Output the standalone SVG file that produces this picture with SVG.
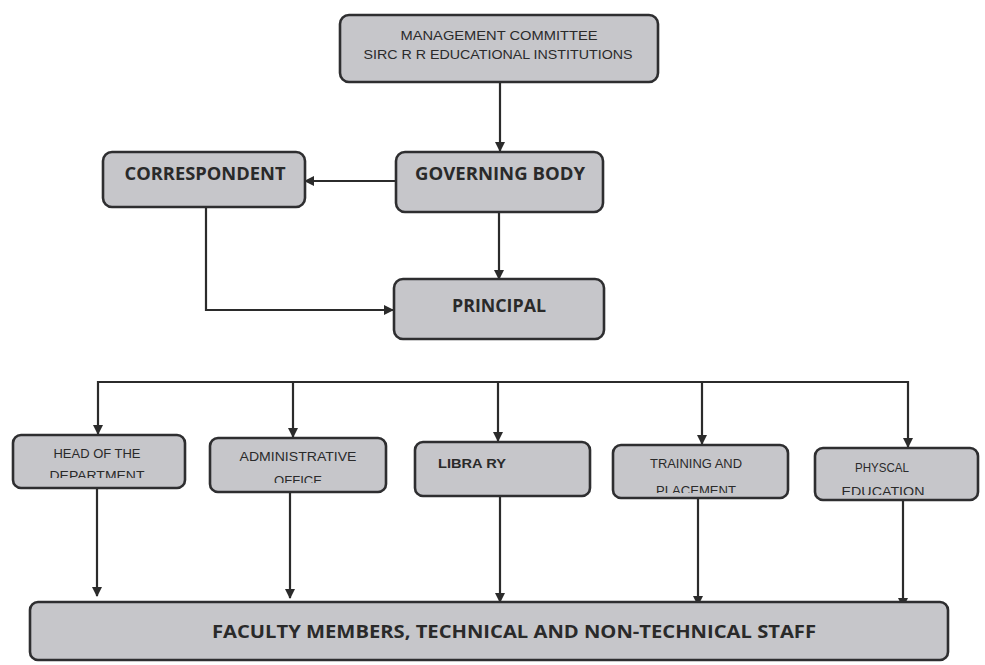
<svg xmlns="http://www.w3.org/2000/svg" width="985" height="665" viewBox="0 0 985 665">
<defs>
<marker id="ah" viewBox="0 0 10 10" refX="9" refY="5" markerWidth="10" markerHeight="10" markerUnits="userSpaceOnUse" orient="auto">
<path d="M0,0 L10,5 L0,10 z" fill="#2b2b2b"/>
</marker>
<clipPath id="c1"><rect x="13" y="435" width="172" height="43"/></clipPath>
<clipPath id="c2"><rect x="210" y="438" width="176" height="45"/></clipPath>
<clipPath id="c4"><rect x="613" y="445" width="175" height="48"/></clipPath>
<clipPath id="c5"><rect x="815" y="448" width="163" height="47"/></clipPath>
</defs>
<style>
.box{fill:#c6c6ca;stroke:#2e2e30;stroke-width:2.6}
.c{fill:none;stroke:#2b2b2b;stroke-width:2.2}
.a{marker-end:url(#ah)}
.t{font-family:"Liberation Sans","Open Sans",sans-serif;fill:#2a2a2a;text-anchor:middle}
.b{font-family:"Open Sans","Liberation Sans",sans-serif;font-weight:bold;font-size:18px}
.s{font-size:13px}
</style>
<rect width="985" height="665" fill="#ffffff"/>
<g id="connectors">
<line class="c a" x1="500" y1="82" x2="500" y2="151"/>
<line class="c a" x1="396" y1="181" x2="305" y2="181"/>
<line class="c a" x1="499" y1="212" x2="499" y2="279"/>
<polyline class="c a" points="206,207 206,310 393,310"/>
<polyline class="c" points="98,382 908,382"/>
<line class="c a" x1="98" y1="381" x2="98" y2="434"/>
<line class="c a" x1="293" y1="381" x2="293" y2="437"/>
<line class="c a" x1="498" y1="381" x2="498" y2="441"/>
<line class="c a" x1="702" y1="381" x2="702" y2="444"/>
<line class="c a" x1="908" y1="381" x2="908" y2="447"/>
<line class="c a" x1="97" y1="488" x2="97" y2="596"/>
<line class="c a" x1="290" y1="492" x2="290" y2="598"/>
<line class="c a" x1="500" y1="496" x2="500" y2="602"/>
<line class="c a" x1="698" y1="498" x2="698" y2="605"/>
<line class="c a" x1="903" y1="500" x2="903" y2="607"/>
</g>
<g id="management">
<rect class="box" x="340" y="15" width="318" height="67" rx="9"/>
<text class="t s" x="499" y="40" textLength="197" lengthAdjust="spacingAndGlyphs">MANAGEMENT COMMITTEE</text>
<text class="t s" x="498" y="59" textLength="269" lengthAdjust="spacingAndGlyphs">SIRC  R R EDUCATIONAL INSTITUTIONS</text>
</g>
<g id="governing">
<rect class="box" x="396" y="152" width="207" height="60" rx="9"/>
<text class="t b" x="500" y="180" textLength="170" lengthAdjust="spacingAndGlyphs">GOVERNING BODY</text>
</g>
<g id="correspondent">
<rect class="box" x="103" y="152" width="202" height="55" rx="9"/>
<text class="t b" x="205" y="180" textLength="161" lengthAdjust="spacingAndGlyphs">CORRESPONDENT</text>
</g>
<g id="principal">
<rect class="box" x="394" y="279" width="210" height="60" rx="9"/>
<text class="t b" x="499" y="312" textLength="94" lengthAdjust="spacingAndGlyphs">PRINCIPAL</text>
</g>
<g id="hod">
<rect class="box" x="13" y="435" width="172" height="53" rx="8"/>
<text class="t s" x="97" y="458" textLength="87" lengthAdjust="spacingAndGlyphs">HEAD OF THE</text>
<text class="t s" x="97" y="480" textLength="95" lengthAdjust="spacingAndGlyphs" clip-path="url(#c1)">DEPARTMENT</text>
</g>
<g id="admin">
<rect class="box" x="210" y="438" width="176" height="54" rx="8"/>
<text class="t s" x="298" y="461" textLength="117" lengthAdjust="spacingAndGlyphs">ADMINISTRATIVE</text>
<text class="t s" x="298" y="485" textLength="48" lengthAdjust="spacingAndGlyphs" clip-path="url(#c2)">OFFICE</text>
</g>
<g id="library">
<rect class="box" x="415" y="442" width="175" height="54" rx="8"/>
<text class="t s" x="472" y="468" textLength="68" lengthAdjust="spacingAndGlyphs" style="font-weight:bold">LIBRA RY</text>
</g>
<g id="training">
<rect class="box" x="613" y="445" width="175" height="53" rx="8"/>
<text class="t s" x="696" y="468" textLength="92" lengthAdjust="spacingAndGlyphs">TRAINING AND</text>
<text class="t s" x="696" y="495" textLength="80" lengthAdjust="spacingAndGlyphs" clip-path="url(#c4)">PLACEMENT</text>
</g>
<g id="physical">
<rect class="box" x="815" y="448" width="163" height="52" rx="8"/>
<text class="t s" x="882" y="472" textLength="54" lengthAdjust="spacingAndGlyphs">PHYSCAL</text>
<text class="t s" x="883" y="496" textLength="83" lengthAdjust="spacingAndGlyphs" clip-path="url(#c5)">EDUCATION</text>
</g>
<g id="faculty">
<rect class="box" x="30" y="602" width="918" height="58" rx="8"/>
<text class="t b" x="514" y="638" textLength="604" lengthAdjust="spacingAndGlyphs">FACULTY MEMBERS, TECHNICAL AND NON-TECHNICAL STAFF</text>
</g>
</svg>
